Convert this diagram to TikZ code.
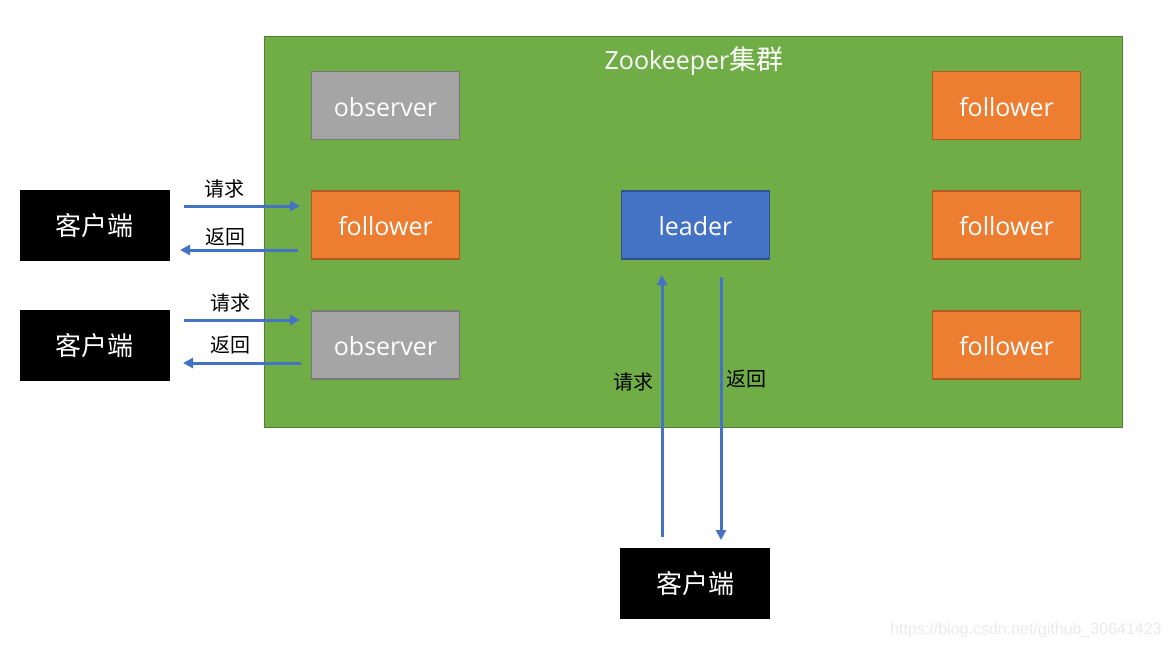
\documentclass[tikz,border=0pt]{standalone}
\usepackage{fontspec}
\setmainfont{Open Sans}
\newfontfamily\cjk{Noto Sans CJK SC}
\newfontfamily\wm{Liberation Sans}
\usetikzlibrary{arrows.meta}
\definecolor{grn}{HTML}{70AD47}
\definecolor{grnd}{HTML}{507E32}
\definecolor{org}{HTML}{ED7D31}
\definecolor{orgd}{HTML}{AE5A21}
\definecolor{gry}{HTML}{A5A5A5}
\definecolor{gryd}{HTML}{787878}
\definecolor{blu}{HTML}{4472C4}
\definecolor{blud}{HTML}{2F528F}
\definecolor{wmc}{HTML}{EAEAEA}
\tikzset{
  box/.style={draw, line width=1.8pt, minimum width=148pt, minimum height=68pt, inner sep=0pt,
    text height=21pt, text depth=0pt, text=white, font=\fontsize{25}{30}\selectfont},
  obs/.style={box, fill=gry, draw=gryd},
  fol/.style={box, fill=org, draw=orgd},
  lead/.style={box, fill=blu, draw=blud},
  client/.style={fill=black, minimum width=150pt, minimum height=71pt, inner sep=0pt,
    text=white, font=\fontsize{26}{30}\selectfont\cjk},
  arr/.style={draw=blu, line width=3pt, -{Triangle[length=10pt,width=10pt]}},
  lbl/.style={font=\fontsize{20}{24}\selectfont\cjk, text=black, inner sep=0pt},
}
\begin{document}
\begin{tikzpicture}[x=1pt,y=-1pt]
\useasboundingbox (0,0) rectangle (1170,648);
\fill[white] (0,0) rectangle (1170,648);
% cluster
\node[draw=grnd, fill=grn, line width=1.8pt, minimum width=858pt, minimum height=391pt, inner sep=0pt] (zk) at (693.5,232) {};
\node[text=white, font=\fontsize{25}{30}\selectfont, inner sep=0pt] (title) at (694,61) {Zookeeper{\cjk\fontsize{27}{30}\selectfont 集群}};
% boxes
\node[obs] (o1) at (385.5,105.5) {observer};
\node[fol] (f1) at (385.5,225) {follower};
\node[obs] (o2) at (385.5,345) {observer};
\node[lead] (ld) at (695.5,225) {leader};
\node[fol] (f2) at (1006.5,105.5) {follower};
\node[fol] (f3) at (1006.5,225) {follower};
\node[fol] (f4) at (1006.5,345) {follower};
% clients
\node[client] (c1) at (94.5,225.5) {客户端};
\node[client] (c2) at (94.5,345.5) {客户端};
\node[client] (c3) at (695,583.5) {客户端};
% connector endpoints
\coordinate (a1s) at (184,206); \coordinate (a1e) at (300,206);
\coordinate (b1s) at (298,250); \coordinate (b1e) at (180,250);
\coordinate (a2s) at (184,320); \coordinate (a2e) at (300,320);
\coordinate (b2s) at (301,363); \coordinate (b2e) at (183,363);
\coordinate (a3s) at (662,537); \coordinate (a3e) at (662,275);
\coordinate (b3s) at (721,277); \coordinate (b3e) at (721,540);
\draw[arr] (a1s) -- (a1e);
\draw[arr] (b1s) -- (b1e);
\draw[arr] (a2s) -- (a2e);
\draw[arr] (b2s) -- (b2e);
\draw[arr] (a3s) -- (a3e);
\draw[arr] (b3s) -- (b3e);
% labels
\node[lbl] (l1) at (224,189) {请求};
\node[lbl] (l2) at (225,237) {返回};
\node[lbl] (l3) at (230,303) {请求};
\node[lbl] (l4) at (230,345) {返回};
\node[lbl] (l5) at (633,382) {请求};
\node[lbl] (l6) at (746,379) {返回};
% watermark
\node[text=wmc, font=\fontsize{16}{18}\selectfont\wm, inner sep=0pt] (wm) at (1026,630) {https://blog.csdn.net/github\_30641423};
\end{tikzpicture}
\end{document}
